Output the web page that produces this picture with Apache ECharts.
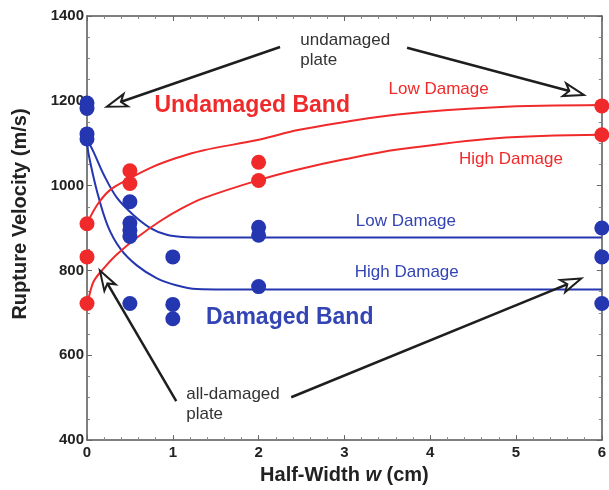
<!DOCTYPE html>
<html>
<head>
<meta charset="utf-8">
<script src="https://cdn.jsdelivr.net/npm/echarts@6/dist/echarts.min.js"></script>
<style>html,body{margin:0;padding:0;background:#fff}#c{width:609px;height:490px}</style>
</head>
<body>
<div id="c"></div>
<script>
// ---- data ----
var redPoints = [[0,910],[0,832],[0,722],[0.5,1035],[0.5,1005],[2,1055],[2,1012],[6,1188],[6,1120]];
var bluePoints = [[0,1195],[0,1182],[0,1122],[0,1110],[0.5,962],[0.5,912],[0.5,895],[0.5,880],[0.5,722],
                  [1,832],[1,720],[1,686],[2,902],[2,883],[2,762],[6,900],[6,832],[6,722]];
var redLowCurve = [[0,910],[0.12,955],[0.27,990],[0.47,1014],[0.74,1042],[1.04,1065],[1.35,1083],[2,1108],[2.46,1131],[3,1150],[3.62,1168],[4.77,1185],[6,1190]];
var redHighCurve = [[0,720],[0.02,736],[0.08,775],[0.2,806],[0.35,838],[0.58,877],[0.85,916],[1.12,948],[1.35,970],[2,1013],[2.46,1038],[3,1062],[3.62,1085],[4.77,1112],[6,1120]];
var blueLowCurve = [[0,1110],[0.08,1078],[0.2,1024],[0.35,971],[0.54,931],[0.74,900],[0.93,884],[1.12,879],[1.35,878],[2,878],[6,878]];
var blueHighCurve = [[0,1105],[0.02,1073],[0.12,984],[0.24,906],[0.39,851],[0.58,812],[0.81,782],[1.04,765],[1.28,756],[1.6,755],[6,755]];
var xTicks = [0,1,2,3,4,5,6];
var yTicks = [400,600,800,1000,1200,1400];
// annotation arrows: [fromX, fromY, toX, toY] in data units
var arrows = [[2.25,1327,0.23,1186],[3.73,1325,5.79,1214],[1.04,492,0.15,800],[2.38,501,5.76,781]];
// annotation texts
var noteTexts = ['undamaged\nplate','all-damaged\nplate','Undamaged Band','Damaged Band','Low Damage','High Damage','Low Damage','High Damage'];
var noteX = [2.486,1.156,0.786,1.387,3.514,4.335,3.133,3.121];
var noteY = [1320,485,1188,689,1226,1061,915,795];

var FONT = "'Liberation Sans', Arial, Helvetica, sans-serif";
var RED = '#f02a2a', BLUE = '#2436b0';
var noteColor = ['#333','#333',RED,'#3344b4',RED,RED,'#3344b4','#3344b4'];
var noteSize = [17,17,23,23,17,17,17,17];
var noteWeight = ['normal','normal','bold','bold','normal','normal','normal','normal'];

var chart = echarts.init(document.getElementById('c'), null, {renderer:'canvas'});
var axisLineStyle = {color:'#555', width:1.5};
function xAx(pos, labels) {
  return {type:'value', min:0, max:6, interval:1, position:pos,
    axisLine:{show:true, onZero:false, lineStyle:axisLineStyle},
    axisTick:{show:true, inside:true, length:5, lineStyle:{color:'#666'}},
    minorTick:{show:true, splitNumber:5, length:3, lineStyle:{color:'#888'}},
    splitLine:{show:false},
    axisLabel:{show:labels, margin:5, color:'#222', fontSize:15, fontWeight:'bold', fontFamily:FONT,
      formatter:function(v){return xTicks.indexOf(v)>=0?String(v):'';}},
    name: labels ? 'Half-Width {i|w} (cm)' : '', nameLocation:'middle', nameGap:20,
    nameTextStyle:{color:'#222', fontSize:20, fontWeight:'bold', fontFamily:FONT,
      rich:{i:{fontStyle:'italic', fontWeight:'bold', fontSize:20, fontFamily:FONT, color:'#222'}}}
  };
}
function yAx(pos, labels) {
  return {type:'value', min:400, max:1400, interval:200, position:pos,
    axisLine:{show:true, onZero:false, lineStyle:axisLineStyle},
    axisTick:{show:true, inside:true, length:5, lineStyle:{color:'#666'}},
    minorTick:{show:true, splitNumber:4, length:3, lineStyle:{color:'#888'}},
    splitLine:{show:false},
    axisLabel:{show:labels, margin:3, color:'#222', fontSize:15, fontWeight:'bold', fontFamily:FONT,
      formatter:function(v){return yTicks.indexOf(v)>=0?String(v):'';}}
  };
}
function curve(data, color) {
  return {type:'line', data:data, smooth:0.35, showSymbol:false, symbol:'none',
    lineStyle:{color:color, width:2}, xAxisIndex:0, yAxisIndex:0, z:2, silent:true};
}
chart.setOption({
  animation:false,
  backgroundColor:'#fff',
  grid:{left:87, right:3, top:16, bottom:49, containLabel:false},
  xAxis:[xAx('bottom', true), xAx('top', false)],
  yAxis:[yAx('left', true), yAx('right', false)],
  graphic:[{type:'text', x:20, y:214, rotation:Math.PI/2,
    style:{text:'Rupture Velocity (m/s)', fill:'#222', font:'bold 20px '+FONT, align:'center', verticalAlign:'middle'}}],
  series:[
    curve(blueLowCurve, BLUE), curve(blueHighCurve, BLUE),
    curve(redLowCurve, RED), curve(redHighCurve, RED),
    {type:'scatter', data:bluePoints, symbolSize:15, itemStyle:{color:BLUE, opacity:1}, z:3, clip:false},
    {type:'scatter', data:redPoints, symbolSize:15, itemStyle:{color:RED, opacity:1}, z:3, clip:false},
    {type:'custom', data:arrows, z:4, clip:false, silent:true,
      encode:{x:[0,2], y:[1,3]},
      renderItem:function(params, api){
        var p1 = api.coord([api.value(0), api.value(1)]);
        var p2 = api.coord([api.value(2), api.value(3)]);
        var dx = p2[0]-p1[0], dy = p2[1]-p1[1], L = Math.sqrt(dx*dx+dy*dy);
        var ux = dx/L, uy = dy/L, nx = -uy, ny = ux;
        var hl = 20, hw = 6.5;
        var bx = p2[0]-ux*hl, by = p2[1]-uy*hl;
        return {type:'group', children:[
          {type:'line', shape:{x1:p1[0], y1:p1[1], x2:bx+ux*4, y2:by+uy*4}, style:{stroke:'#1e1e1e', lineWidth:2.5}},
          {type:'polygon', shape:{points:[[p2[0],p2[1]],[bx+nx*hw,by+ny*hw],[bx+ux*5,by+uy*5],[bx-nx*hw,by-ny*hw]]},
            style:{fill:'#fff', stroke:'#1e1e1e', lineWidth:2, lineJoin:'miter'}}
        ]};
      }},
    {type:'custom', data:noteTexts.map(function(t,i){return [noteX[i], noteY[i], i];}), z:5, clip:false, silent:true,
      renderItem:function(params, api){
        var i = api.value(2);
        var p = api.coord([api.value(0), api.value(1)]);
        return {type:'text', x:p[0], y:p[1], style:{text:noteTexts[i], fill:noteColor[i],
          font: noteWeight[i]+' '+noteSize[i]+'px '+FONT, align:'left', verticalAlign:'middle', lineHeight:20}};
      }}
  ]
});
</script>
</body>
</html>
